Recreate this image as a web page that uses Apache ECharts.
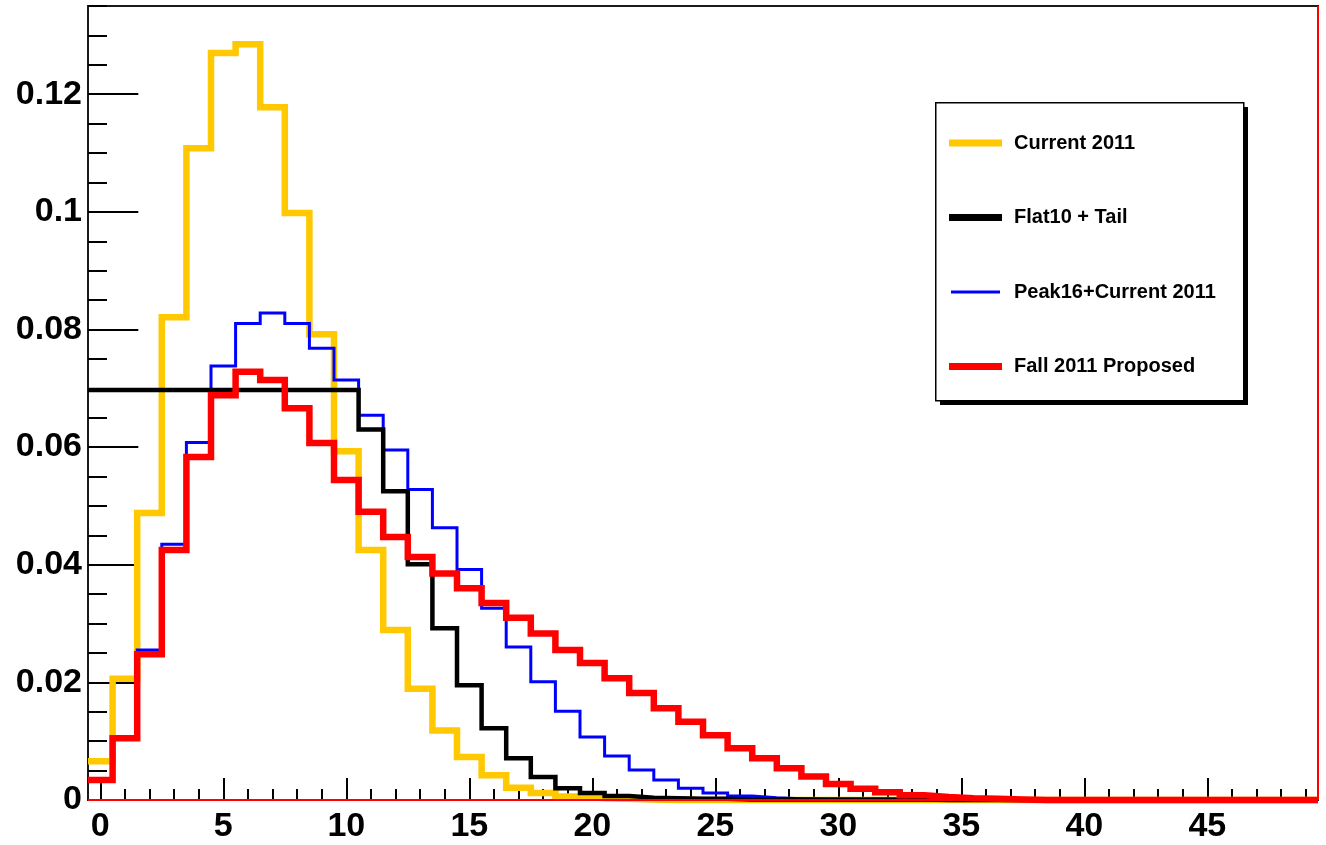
<!DOCTYPE html>
<html>
<head>
<meta charset="utf-8">
<script src="https://cdn.jsdelivr.net/npm/echarts@6/dist/echarts.min.js"></script>
<style>
html,body{margin:0;padding:0;background:#fff;}
#chart{width:1326px;height:845px;}
</style>
</head>
<body>
<div id="chart"></div>
<script>
// Bin centres (unit-width bins from -0.5 to 49.5)
const binCenters = [0,1,2,3,4,5,6,7,8,9,10,11,12,13,14,15,16,17,18,19,20,21,22,23,24,25,26,27,28,29,30,31,32,33,34,35,36,37,38,39,40,41,42,43,44,45,46,47,48,49];
const xTickLabels = ['0','5','10','15','20','25','30','35','40','45'];

const current2011 = [0.0066,0.0206,0.0488,0.0821,0.1108,0.1270,0.1285,0.1178,0.0998,0.0792,
  0.0593,0.0425,0.0289,0.0189,0.0118,0.0073,0.0042,0.0021,0.0012,0.0006,
  0.0003,0.0002,0.0001,0,0,0,0,0,0,0, 0,0,0,0,0,0,0,0,0,0, 0,0,0,0,0,0,0,0,0,0];
const flat10Tail = [0.0697,0.0697,0.0697,0.0697,0.0697,0.0697,0.0697,0.0697,0.0697,0.0697,
  0.0697,0.0630,0.0525,0.0401,0.0292,0.0195,0.0122,0.0071,0.0039,0.0020,
  0.0012,0.0007,0.0004,0.0003,0.0002,0.0002,0.0001,0.0001,0.0001,0.0001, 0.0001,0.0001,0.0001,0.0001,0,0,0,0,0,0, 0,0,0,0,0,0,0,0,0,0];
const peak16Current2011 = [0.0035,0.0105,0.0255,0.0435,0.0608,0.0738,0.0810,0.0828,0.0810,0.0768,
  0.0714,0.0654,0.0595,0.0528,0.0463,0.0392,0.0326,0.0260,0.0201,0.0151,
  0.0107,0.0075,0.0051,0.0034,0.0020,0.0012,0.0007,0.0004,0.0002,0.0001, 0,0,0,0,0,0,0,0,0,0, 0,0,0,0,0,0,0,0,0,0];
const fall2011Proposed = [0.0034,0.0105,0.0248,0.0425,0.0583,0.0688,0.0728,0.0714,0.0666,0.0607,
  0.0544,0.0490,0.0447,0.0413,0.0385,0.0360,0.0335,0.0310,0.0283,0.0255,
  0.0233,0.0207,0.0182,0.0156,0.0133,0.0110,0.0088,0.0071,0.0054,0.0040,
  0.0027,0.0019,0.0013,0.0008,0.0005,0.0003,0.0002,0.0001,0,0, 0,0,0,0,0,0,0,0,0,0];

const seriesNames = ['Current 2011','Flat10 + Tail','Peak16+Current 2011','Fall 2011 Proposed'];
const seriesColors = ['#ffc800','#000000','#0000ff','#ff0000'];

// histogram outline: each bin gives its left and right edge at its height
function steps(values){
  const pts = [];
  values.forEach(function(v,i){
    pts.push([binCenters[i]-0.5, v]);
    pts.push([binCenters[i]+0.5, v]);
  });
  return pts;
}

const chart = echarts.init(document.getElementById('chart'), null, {renderer:'canvas'});
const FONT = '"Liberation Sans", Arial, Helvetica, sans-serif';

function histSeries(name, values, color, width, z){
  return {
    name: name, type:'line', xAxisIndex:0, yAxisIndex:0,
    data: steps(values), symbol:'none', showSymbol:false, clip:false, z:z,
    lineStyle:{color:color, width:width, join:'miter', cap:'butt'},
    itemStyle:{color:color},
    emphasis:{disabled:true}, animation:false
  };
}

const redSeries = histSeries(seriesNames[3], fall2011Proposed, seriesColors[3], 6.5, 5);
redSeries.markLine = {
  silent:true, symbol:['none','none'], label:{show:false}, animation:false,
  lineStyle:{color:'#ff0000', width:2, type:'solid'},
  data:[{xAxis:49.5},{yAxis:0}]
};

const legendData = seriesNames.map(function(n, i){
  const thin = (i === 2);
  return {
    name:n, icon:'rect',
    itemStyle:{color:seriesColors[i], borderColor: thin ? '#ffffff' : seriesColors[i], borderWidth: thin ? 4 : 0}
  };
});

const option = {
  backgroundColor:'#ffffff',
  animation:false,
  grid:{left:88, right:8, top:6, bottom:45, show:true, borderColor:'#1a1a1a', borderWidth:2, backgroundColor:'transparent'},
  graphic:[
    {type:'rect', z:1, left:940, top:107, silent:true, shape:{width:308, height:298}, style:{fill:'#000'}},
    {type:'rect', z:2, left:935, top:102, silent:true, shape:{width:308, height:298}, style:{fill:'#fff', stroke:'#000', lineWidth:1.5}}
  ],
  legend:{
    data: legendData,
    orient:'vertical', left:935, top:102, z:10,
    padding:[31, 20, 20, 12],
    itemGap:54.5, itemWidth:53, itemHeight:7,
    textStyle:{fontFamily:FONT, fontWeight:'bold', fontSize:20, color:'#000', padding:[0,0,0,7]},
    selectedMode:false
  },
  xAxis:[
    {type:'value', min:-0.5, max:49.5, show:false},
    {type:'category', data:binCenters, position:'bottom', boundaryGap:true,
      axisLine:{show:false}, axisLabel:{show:false}, splitLine:{show:false},
      axisTick:{show:true, inside:true, alignWithLabel:true, interval:0, length:11, lineStyle:{color:'#000', width:2}}},
    {type:'category', data:binCenters, position:'bottom', boundaryGap:true,
      axisLine:{show:false}, splitLine:{show:false},
      axisTick:{show:true, inside:true, alignWithLabel:true, length:22, lineStyle:{color:'#000', width:2},
        interval:function(i){ return xTickLabels.indexOf(String(binCenters[i])) >= 0; }},
      axisLabel:{show:true, margin:10, fontFamily:FONT, fontWeight:'bold', fontSize:34, color:'#000',
        interval:function(i){ return xTickLabels.indexOf(String(binCenters[i])) >= 0; }}}
  ],
  yAxis:[
    {type:'value', min:0, max:0.135, interval:0.02,
      axisLine:{show:false}, splitLine:{show:false},
      axisTick:{show:true, inside:true, length:38, lineStyle:{color:'#000', width:2}},
      axisLabel:{show:true, margin:6, showMaxLabel:false, fontFamily:FONT, fontWeight:'bold', fontSize:34, color:'#000',
        formatter:function(v){ return v===0 ? '0' : String(Math.round(v*1000)/1000); }}},
    {type:'value', min:0, max:0.135, interval:0.005, position:'left',
      axisLine:{show:false}, splitLine:{show:false}, axisLabel:{show:false},
      axisTick:{show:true, inside:true, length:19, lineStyle:{color:'#000', width:2}}}
  ],
  series:[
    histSeries(seriesNames[0], current2011, seriesColors[0], 6.5, 2),
    histSeries(seriesNames[2], peak16Current2011, seriesColors[2], 3, 3),
    histSeries(seriesNames[1], flat10Tail, seriesColors[1], 4.5, 4),
    redSeries
  ]
};
chart.setOption(option);
</script>
</body>
</html>
